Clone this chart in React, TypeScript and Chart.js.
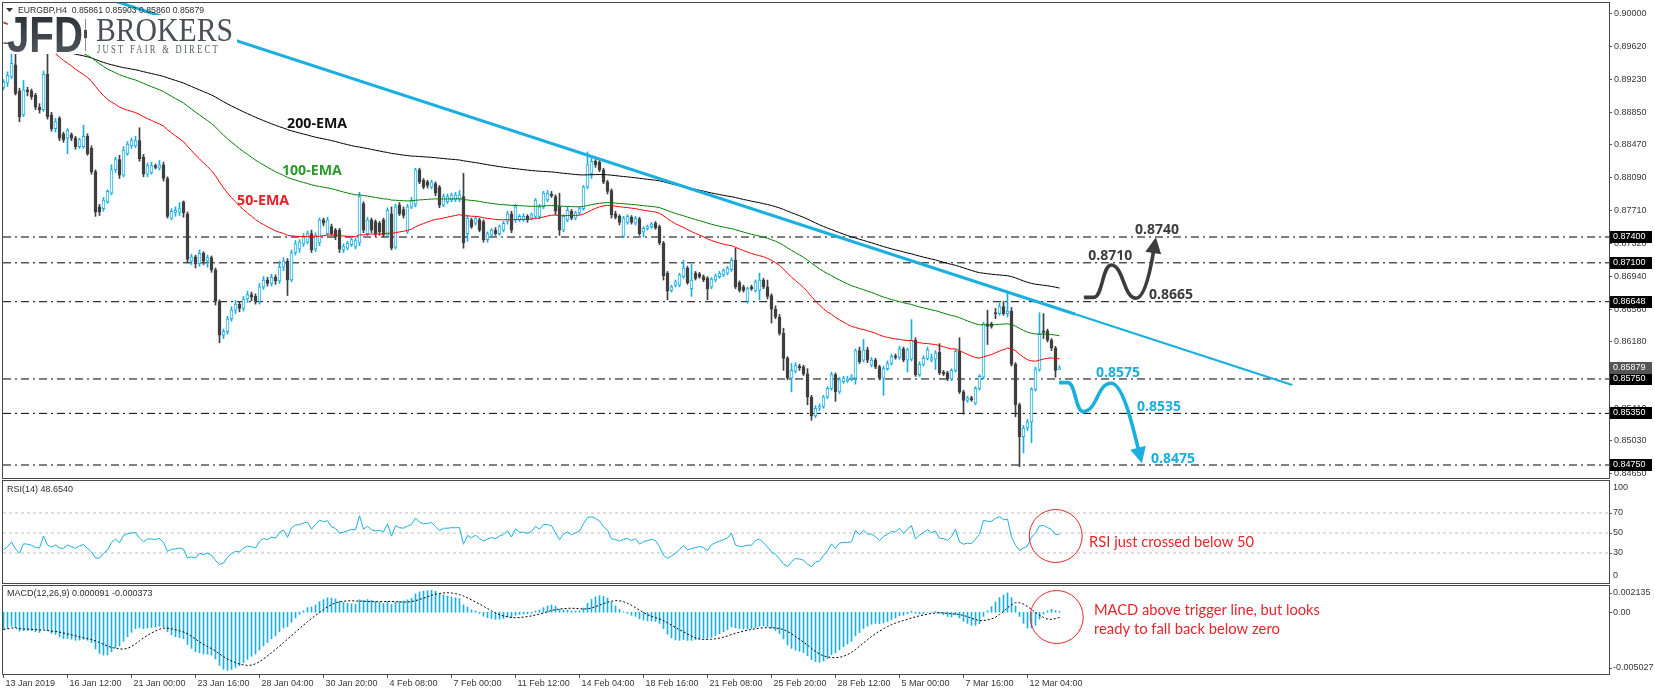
import React, { useEffect, useRef } from 'react';
import { Chart, registerables } from 'chart.js';

Chart.register(...registerables);

// ---------------- data (EURGBP H4) ----------------
const opens = [
  0.8914,0.8919,0.8926,0.8940,0.8910,0.8882,0.8911,0.8910,0.8905,0.8891,
  0.8888,0.8929,0.8882,0.8866,0.8878,0.8860,0.8855,0.8859,0.8855,0.8845,
  0.8845,0.8857,0.8843,0.8816,0.8775,0.8773,0.8781,0.8791,0.8818,0.8830,
  0.8812,0.8837,0.8846,0.8846,0.8852,0.8833,0.8813,0.8815,0.8823,0.8820,
  0.8824,0.8808,0.8762,0.8768,0.8769,0.8781,0.8767,0.8712,0.8717,0.8709,
  0.8721,0.8712,0.8716,0.8702,0.8665,0.8626,0.8630,0.8645,0.8655,0.8662,
  0.8657,0.8668,0.8673,0.8671,0.8665,0.8682,0.8690,0.8686,0.8693,0.8689,
  0.8705,0.8712,0.8690,0.8722,0.8726,0.8732,0.8734,0.8744,0.8726,0.8733,
  0.8760,0.8744,0.8752,0.8748,0.8748,0.8725,0.8727,0.8731,0.8729,0.8733,
  0.8779,0.8744,0.8760,0.8758,0.8756,0.8760,0.8742,0.8767,0.8728,0.8777,
  0.8772,0.8746,0.8775,0.8778,0.8818,0.8806,0.8804,0.8798,0.8802,0.8798,
  0.8777,0.8781,0.8783,0.8783,0.8784,0.8787,0.8744,0.8760,0.8756,0.8760,
  0.8758,0.8737,0.8742,0.8748,0.8744,0.8748,0.8758,0.8767,0.8760,0.8760,
  0.8760,0.8764,0.8762,0.8764,0.8764,0.8775,0.8783,0.8790,0.8787,0.8775,
  0.8748,0.8760,0.8770,0.8762,0.8768,0.8773,0.8798,0.8814,0.8828,0.8827,
  0.8818,0.8804,0.8794,0.8767,0.8764,0.8741,0.8757,0.8763,0.8756,0.8761,
  0.8746,0.8750,0.8752,0.8756,0.8752,0.8733,0.8698,0.8678,0.8684,0.8684,
  0.8694,0.8704,0.8680,0.8698,0.8697,0.8694,0.8692,0.8682,0.8690,0.8694,
  0.8696,0.8698,0.8702,0.8713,0.8687,0.8682,0.8665,0.8682,0.8678,0.8678,
  0.8690,0.8682,0.8672,0.8656,0.8647,0.8628,0.8599,0.8576,0.8584,0.8590,
  0.8589,0.8581,0.8554,0.8532,0.8541,0.8543,0.8554,0.8564,0.8580,0.8560,
  0.8572,0.8573,0.8575,0.8576,0.8608,0.8597,0.8609,0.8591,0.8597,0.8589,
  0.8576,0.8587,0.8593,0.8602,0.8600,0.8610,0.8597,0.8598,0.8620,0.8580,
  0.8592,0.8599,0.8597,0.8598,0.8606,0.8583,0.8582,0.8575,0.8585,0.8607,
  0.8560,0.8550,0.8553,0.8547,0.8564,0.8577,0.8639,0.8639,0.8652,0.8651,
  0.8659,0.8651,0.8654,0.8592,0.8545,0.8508,0.8518,0.8525,0.8563,0.8586,
  0.8631,0.8631,0.8620,0.8611,0.85861,
];
const highs = [
  0.8923,0.8932,0.8953,0.8953,0.8913,0.8922,0.8914,0.8912,0.8907,0.8895,
  0.8933,0.8953,0.8885,0.8878,0.8880,0.8862,0.8866,0.8861,0.8857,0.8855,
  0.8870,0.8860,0.8846,0.8818,0.8778,0.8786,0.8795,0.8824,0.8833,0.8835,
  0.8845,0.8851,0.8855,0.8857,0.8867,0.8836,0.8826,0.8827,0.8825,0.8829,
  0.8827,0.8810,0.8773,0.8775,0.8780,0.8782,0.8769,0.8720,0.8719,0.8725,
  0.8723,0.8719,0.8718,0.8704,0.8667,0.8633,0.8648,0.8659,0.8666,0.8665,
  0.8671,0.8677,0.8676,0.8674,0.8686,0.8694,0.8693,0.8697,0.8696,0.8712,
  0.8716,0.8715,0.8725,0.8736,0.8737,0.8744,0.8747,0.8748,0.8745,0.8762,
  0.8762,0.8763,0.8755,0.8750,0.8750,0.8732,0.8735,0.8740,0.8739,0.8792,
  0.8781,0.8763,0.8762,0.8760,0.8758,0.8762,0.8774,0.8775,0.8778,0.8780,
  0.8775,0.8778,0.8786,0.8820,0.8820,0.8808,0.8806,0.8806,0.8804,0.8800,
  0.8790,0.8790,0.8791,0.8792,0.8794,0.8814,0.8765,0.8762,0.8764,0.8762,
  0.8760,0.8746,0.8750,0.8751,0.8754,0.8758,0.8770,0.8770,0.8778,0.8766,
  0.8767,0.8766,0.8768,0.8785,0.8778,0.8793,0.8794,0.8793,0.8789,0.8791,
  0.8766,0.8775,0.8772,0.8770,0.8775,0.8800,0.8839,0.8833,0.8830,0.8830,
  0.8820,0.8806,0.8796,0.8770,0.8766,0.8764,0.8766,0.8765,0.8764,0.8763,
  0.8752,0.8754,0.8757,0.8758,0.8754,0.8735,0.8700,0.8684,0.8690,0.8698,
  0.8713,0.8706,0.8708,0.8700,0.8699,0.8696,0.8694,0.8693,0.8697,0.8700,
  0.8703,0.8706,0.8716,0.8727,0.8689,0.8684,0.8682,0.8684,0.8690,0.8698,
  0.8692,0.8690,0.8674,0.8660,0.8650,0.8634,0.8601,0.8593,0.8594,0.8592,
  0.8591,0.8587,0.8556,0.8544,0.8546,0.8556,0.8566,0.8583,0.8582,0.8577,
  0.8578,0.8578,0.8580,0.8610,0.8612,0.8621,0.8612,0.8600,0.8599,0.8591,
  0.8590,0.8596,0.8604,0.8604,0.8613,0.8612,0.8611,0.8644,0.8623,0.8595,
  0.8602,0.8612,0.8604,0.8608,0.8616,0.8585,0.8584,0.8587,0.8609,0.8623,
  0.8562,0.8555,0.8555,0.8566,0.8580,0.8641,0.8655,0.8641,0.8657,0.8663,
  0.8665,0.8675,0.8658,0.8594,0.8547,0.8521,0.8528,0.8565,0.8589,0.8652,
  0.8651,0.8633,0.8622,0.8613,0.85903,
];
const lows = [
  0.8911,0.8915,0.8924,0.8905,0.8874,0.8880,0.8904,0.8900,0.8888,0.8884,
  0.8886,0.8877,0.8863,0.8862,0.8852,0.8850,0.8837,0.8852,0.8842,0.8843,
  0.8843,0.8835,0.8813,0.8764,0.8765,0.8770,0.8779,0.8789,0.8815,0.8808,
  0.8810,0.8835,0.8843,0.8844,0.8828,0.8810,0.8810,0.8813,0.8819,0.8818,
  0.8805,0.8762,0.8760,0.8764,0.8765,0.8763,0.8710,0.8708,0.8704,0.8706,
  0.8708,0.8705,0.8699,0.8661,0.8617,0.8622,0.8627,0.8642,0.8651,0.8653,
  0.8654,0.8664,0.8666,0.8662,0.8662,0.8679,0.8683,0.8683,0.8685,0.8686,
  0.8701,0.8672,0.8688,0.8719,0.8722,0.8729,0.8732,0.8722,0.8723,0.8730,
  0.8753,0.8742,0.8742,0.8737,0.8722,0.8722,0.8725,0.8729,0.8726,0.8730,
  0.8745,0.8741,0.8745,0.8741,0.8742,0.8740,0.8740,0.8725,0.8726,0.8765,
  0.8762,0.8744,0.8773,0.8775,0.8802,0.8796,0.8797,0.8796,0.8788,0.8774,
  0.8775,0.8779,0.8781,0.8781,0.8781,0.8727,0.8735,0.8750,0.8754,0.8746,
  0.8734,0.8734,0.8740,0.8742,0.8742,0.8746,0.8755,0.8745,0.8757,0.8758,
  0.8758,0.8757,0.8760,0.8762,0.8761,0.8773,0.8781,0.8786,0.8766,0.8742,
  0.8746,0.8758,0.8760,0.8760,0.8766,0.8771,0.8796,0.8808,0.8821,0.8816,
  0.8802,0.8790,0.8762,0.8761,0.8754,0.8739,0.8755,0.8755,0.8754,0.8742,
  0.8740,0.8748,0.8750,0.8749,0.8731,0.8690,0.8667,0.8676,0.8682,0.8682,
  0.8692,0.8685,0.8671,0.8690,0.8692,0.8688,0.8667,0.8680,0.8688,0.8692,
  0.8694,0.8696,0.8700,0.8680,0.8676,0.8676,0.8663,0.8678,0.8676,0.8667,
  0.8680,0.8668,0.8640,0.8645,0.8626,0.8585,0.8574,0.8560,0.8582,0.8585,
  0.8579,0.8545,0.8527,0.8530,0.8538,0.8541,0.8552,0.8562,0.8549,0.8558,
  0.8570,0.8571,0.8573,0.8569,0.8593,0.8595,0.8594,0.8589,0.8587,0.8574,
  0.8556,0.8585,0.8591,0.8598,0.8598,0.8595,0.8583,0.8596,0.8578,0.8578,
  0.8590,0.8597,0.8595,0.8586,0.8580,0.8579,0.8573,0.8573,0.8583,0.8558,
  0.8534,0.8548,0.8549,0.8545,0.8562,0.8575,0.8615,0.8634,0.8645,0.8649,
  0.8649,0.8647,0.8590,0.8531,0.8473,0.8489,0.8515,0.8501,0.8561,0.8584,
  0.8622,0.8618,0.8608,0.8577,0.85860,
];
const closes = [
  0.8920,0.8928,0.8942,0.8907,0.8880,0.8911,0.8909,0.8903,0.8891,0.8888,
  0.8929,0.8880,0.8866,0.8874,0.8855,0.8853,0.8864,0.8855,0.8845,0.8853,
  0.8857,0.8837,0.8816,0.8769,0.8769,0.8783,0.8793,0.8818,0.8830,0.8812,
  0.8841,0.8848,0.8852,0.8852,0.8831,0.8813,0.8823,0.8823,0.8821,0.8824,
  0.8808,0.8764,0.8770,0.8771,0.8773,0.8768,0.8714,0.8717,0.8709,0.8721,
  0.8712,0.8716,0.8702,0.8665,0.8626,0.8630,0.8645,0.8655,0.8662,0.8657,
  0.8668,0.8673,0.8670,0.8665,0.8682,0.8690,0.8686,0.8693,0.8689,0.8705,
  0.8712,0.8690,0.8722,0.8732,0.8734,0.8740,0.8744,0.8725,0.8742,0.8760,
  0.8756,0.8760,0.8744,0.8740,0.8726,0.8729,0.8733,0.8737,0.8736,0.8787,
  0.8748,0.8760,0.8748,0.8744,0.8746,0.8742,0.8771,0.8727,0.8775,0.8767,
  0.8765,0.8775,0.8783,0.8818,0.8804,0.8798,0.8800,0.8804,0.8791,0.8777,
  0.8787,0.8787,0.8789,0.8789,0.8789,0.8733,0.8762,0.8752,0.8762,0.8748,
  0.8737,0.8744,0.8748,0.8744,0.8752,0.8756,0.8767,0.8748,0.8775,0.8764,
  0.8764,0.8760,0.8766,0.8783,0.8775,0.8791,0.8791,0.8788,0.8770,0.8748,
  0.8764,0.8771,0.8762,0.8768,0.8773,0.8798,0.8824,0.8828,0.8824,0.8818,
  0.8804,0.8793,0.8766,0.8763,0.8757,0.8762,0.8764,0.8757,0.8762,0.8744,
  0.8750,0.8752,0.8755,0.8751,0.8733,0.8695,0.8677,0.8682,0.8688,0.8696,
  0.8704,0.8687,0.8690,0.8692,0.8694,0.8690,0.8680,0.8691,0.8695,0.8698,
  0.8701,0.8704,0.8713,0.8682,0.8678,0.8678,0.8680,0.8680,0.8688,0.8690,
  0.8682,0.8671,0.8656,0.8647,0.8628,0.8599,0.8576,0.8585,0.8591,0.8588,
  0.8581,0.8554,0.8532,0.8541,0.8543,0.8554,0.8564,0.8580,0.8560,0.8574,
  0.8576,0.8575,0.8577,0.8608,0.8595,0.8609,0.8597,0.8597,0.8589,0.8576,
  0.8587,0.8593,0.8601,0.8600,0.8610,0.8597,0.8609,0.8620,0.8580,0.8592,
  0.8599,0.8609,0.8600,0.8605,0.8582,0.8581,0.8575,0.8585,0.8607,0.8560,
  0.8550,0.8553,0.8551,0.8564,0.8578,0.8639,0.8636,0.8636,0.8651,0.8659,
  0.8651,0.8654,0.8592,0.8545,0.8508,0.8518,0.8525,0.8563,0.8586,0.8627,
  0.8629,0.8620,0.8611,0.8585,0.85879,
];

const timeTickBars = [0, 16, 32, 48, 64, 80, 96, 112, 128, 144, 160, 176, 192, 208, 224, 240, 256];
const timeTickLabels = [
  '13 Jan 2019', '16 Jan 12:00', '21 Jan 00:00', '23 Jan 16:00', '28 Jan 04:00', '30 Jan 20:00',
  '4 Feb 08:00', '7 Feb 00:00', '11 Feb 12:00', '14 Feb 04:00', '18 Feb 16:00', '21 Feb 08:00',
  '25 Feb 20:00', '28 Feb 12:00', '5 Mar 00:00', '7 Mar 16:00', '12 Mar 04:00',
];
const priceTicks = [0.9, 0.8962, 0.8923, 0.8885, 0.8847, 0.8809, 0.8771, 0.8732, 0.8694, 0.8656, 0.8618, 0.858, 0.8541, 0.8503, 0.8465];
const levelPrices = [0.874, 0.871, 0.86648, 0.8575, 0.8535, 0.8475];
const levelTags = ['0.87400', '0.87100', '0.86648', '0.85750', '0.85350', '0.84750'];
const lastPrice = 0.85879;
const lastTag = '0.85879';
const trendThick = [{ x: 28, y: 0.9014 }, { x: 268, y: 0.86502 }];
const trendThin = [{ x: 268, y: 0.86502 }, { x: 322.2, y: 0.8568 }];
const bullishTargets = ['0.8740', '0.8710', '0.8665'];
const bearishTargets = ['0.8575', '0.8535', '0.8475'];
const rsiLevels = [30, 50, 70];
const rsiAxis = [100, 70, 50, 30, 0];
const macdAxis = [0.002135, 0, -0.005027];
const macdAxisTags = ['0.002135', '0.00', '-0.005027'];

// indicator seeds (values just before the first visible bar)
const emaSeed50 = 0.8993;
const emaSeed100 = 0.899;
const emaSeed200 = 0.8966;
const macdSeedFast = 0.8933;
const macdSeedSlow = 0.8947;
const rsiSeedGain = 0.00045;
const rsiSeedLoss = 0.0009;

// ---------------- indicators ----------------
function emaSeries(src: number[], period: number, seed: number) {
  const k = 2 / (period + 1);
  let prev = seed;
  return src.map((v) => (prev = prev + k * (v - prev)));
}
function rsiSeries(src: number[], n: number, g0: number, l0: number) {
  let g = g0;
  let l = l0;
  return src.map((v, i) => {
    if (i > 0) {
      const d = v - src[i - 1];
      g = (g * (n - 1) + Math.max(d, 0)) / n;
      l = (l * (n - 1) + Math.max(-d, 0)) / n;
    }
    return l === 0 ? 100 : 100 - 100 / (1 + g / l);
  });
}
const ema50 = emaSeries(closes, 50, emaSeed50);
const ema100 = emaSeries(closes, 100, emaSeed100);
const ema200 = emaSeries(closes, 200, emaSeed200);
const rsi = rsiSeries(closes, 14, rsiSeedGain, rsiSeedLoss);
const fastE = emaSeries(closes, 12, macdSeedFast);
const slowE = emaSeries(closes, 26, macdSeedSlow);
const macdMain = fastE.map((v, i) => v - slowE[i]);
const macdSignal = macdMain.map((_, i) => {
  const a = macdMain.slice(Math.max(0, i - 8), i + 1);
  return a.reduce((s, v) => s + v, 0) / a.length;
});

// ---------------- styling ----------------
const X_MIN = -0.125;
const X_MAX = 401.375;
const P_MIN = 0.84599;
const P_MAX = 0.9012;
const CYAN = '#1aafdf';
const DARK = '#3f3f3f';
const FRAME = '#474747';
const AX = '#363636';
const SANS = '"Liberation Sans", Arial, sans-serif';
const TICK_FONT = { family: '"Liberation Sans", Arial, sans-serif', size: 9 };
const SMALL = `9px ${SANS}`;
const RED = '#e5262c';
const BOLD_LABEL = `bold 15px "Open Sans", ${SANS}`;
const BOLD_TARGET = `bold 14px "Open Sans", ${SANS}`;
const NOTE = `15px Lato, ${SANS}`;

function txt(ctx: any, s: string, x: number, y: number, font: string, color: string, align = 'left', maxW?: number) {
  ctx.font = font;
  ctx.fillStyle = color;
  ctx.textAlign = align;
  ctx.textBaseline = 'middle';
  if (maxW) ctx.fillText(s, x, y, maxW);
  else ctx.fillText(s, x, y);
}

function arrowHead(ctx: any, tip: number[], from: number[], len: number, half: number, color: string) {
  const dx = tip[0] - from[0];
  const dy = tip[1] - from[1];
  const d = Math.hypot(dx, dy);
  const ux = dx / d;
  const uy = dy / d;
  const bx = tip[0] - ux * len;
  const by = tip[1] - uy * len;
  ctx.beginPath();
  ctx.moveTo(tip[0], tip[1]);
  ctx.lineTo(bx - uy * half, by + ux * half);
  ctx.lineTo(bx + uy * half, by - ux * half);
  ctx.closePath();
  ctx.fillStyle = color;
  ctx.fill();
  return [tip[0] - ux * (len - 2), tip[1] - uy * (len - 2)];
}

function sCurve(ctx: any, a: number[], b: number[]) {
  const d = (b[0] - a[0]) * 0.5;
  ctx.bezierCurveTo(a[0] + d, a[1], b[0] - d, b[1], b[0], b[1]);
}

const xLinear = (display: boolean) => ({
  type: 'linear',
  min: X_MIN,
  max: X_MAX,
  offset: false,
  display,
  grid: { offset: false, display: false },
});

// ---------------- main price panel ----------------
function buildMain(canvas: HTMLCanvasElement) {
  const bull = opens.map((o, i) => closes[i] >= o);
  const line = (data: any[], color: string, width: number, order: number, dash: number[] = []) => ({
    type: 'line',
    data,
    borderColor: color,
    borderWidth: width,
    borderDash: dash,
    pointRadius: 0,
    tension: 0,
    fill: false,
    order,
  });
  const datasets: any[] = [
    ...levelPrices.map((p) => line([{ x: X_MIN, y: p }, { x: X_MAX, y: p }], '#000', 1, 9, [8, 4, 2, 4])),
    {
      type: 'bar',
      data: highs.map((h, i) => ({ x: i, y: [lows[i], h] })),
      backgroundColor: bull.map((b) => (b ? CYAN : DARK)),
      barThickness: 1,
      grouped: false,
      order: 8,
    },
    {
      type: 'bar',
      data: opens.map((o, i) => ({ x: i, y: [o, closes[i]] })),
      backgroundColor: bull.map((b) => (b ? '#ffffff' : DARK)),
      borderColor: bull.map((b) => (b ? CYAN : DARK)),
      borderWidth: 1,
      borderSkipped: false,
      barThickness: 3,
      minBarLength: 1,
      grouped: false,
      order: 7,
    },
    line(ema200.map((v, i) => ({ x: i, y: v })), '#000000', 1, 6),
    line(ema100.map((v, i) => ({ x: i, y: v })), '#008000', 1, 5),
    line(ema50.map((v, i) => ({ x: i, y: v })), '#ff0000', 1, 4),
    line(trendThick, CYAN, 3, 2),
    line(trendThin, CYAN, 2, 2),
  ];

  const decor = {
    id: 'mainDecor',
    afterDraw(chart: any) {
      const { ctx } = chart;
      const xs = chart.scales.x;
      const ys = chart.scales.y;
      const px = (b: number) => xs.getPixelForValue(b);
      const py = (p: number) => ys.getPixelForValue(p);
      ctx.save();
      ctx.strokeStyle = FRAME;
      ctx.lineWidth = 1;
      ctx.strokeRect(2.5, 2.5, 1607, 476);

      // EMA labels
      txt(ctx, '200-EMA', px(78.4), py(0.88713), BOLD_LABEL, '#111111', 'center', 60);
      txt(ctx, '100-EMA', px(77.1), py(0.88167), BOLD_LABEL, '#2a9a2a', 'center', 60);
      txt(ctx, '50-EMA', px(64.9), py(0.87819), BOLD_LABEL, '#ee1c24', 'center', 52);

      // scenario targets
      txt(ctx, bullishTargets[0], px(288.4), py(0.87481), BOLD_TARGET, '#3c3c3c', 'center', 44);
      txt(ctx, bullishTargets[1], px(276.7), py(0.87179), BOLD_TARGET, '#3c3c3c', 'center', 44);
      txt(ctx, bullishTargets[2], px(291.9), py(0.86726), BOLD_TARGET, '#3c3c3c', 'center', 44);
      txt(ctx, bearishTargets[0], px(278.6), py(0.85819), BOLD_TARGET, CYAN, 'center', 44);
      txt(ctx, bearishTargets[1], px(288.9), py(0.85424), BOLD_TARGET, CYAN, 'center', 44);
      txt(ctx, bearishTargets[2], px(292.4), py(0.8482), BOLD_TARGET, CYAN, 'center', 44);

      ctx.lineWidth = 3.6;
      ctx.lineJoin = 'round';
      ctx.lineCap = 'butt';
      // bullish path
      {
        const P0 = [px(270.1), py(0.86699)];
        const P1 = [px(272.6), py(0.86699)];
        const pk = [px(276.9), py(0.87075)];
        const tr = [px(283.1), py(0.86688)];
        const tip = [px(288.1), py(0.87397)];
        const c2 = [tip[0] - 5, tip[1] + 30];
        const end = arrowHead(ctx, tip, c2, 16, 8, '#3c3c3c');
        ctx.strokeStyle = '#3c3c3c';
        ctx.beginPath();
        ctx.moveTo(P0[0], P0[1]);
        ctx.lineTo(P1[0], P1[1]);
        sCurve(ctx, P1, pk);
        sCurve(ctx, pk, tr);
        ctx.bezierCurveTo(tr[0] + 9, tr[1], c2[0], c2[1], end[0], end[1]);
        ctx.stroke();
      }
      // bearish path
      {
        const P0 = [px(263.9), py(0.85707)];
        const P1 = [px(266.1), py(0.85707)];
        const tr = [px(269.9), py(0.8537)];
        const pk = [px(276.9), py(0.857)];
        const tip = [px(284.6), py(0.8477)];
        const c2 = [tip[0] - 9, tip[1] - 36];
        const end = arrowHead(ctx, tip, c2, 16, 8, CYAN);
        ctx.strokeStyle = CYAN;
        ctx.beginPath();
        ctx.moveTo(P0[0], P0[1]);
        ctx.lineTo(P1[0], P1[1]);
        sCurve(ctx, P1, tr);
        sCurve(ctx, tr, pk);
        ctx.bezierCurveTo(pk[0] + 12, pk[1], c2[0], c2[1], end[0], end[1]);
        ctx.stroke();
      }

      // price tags on the axis
      const tag = (p: number, s: string, bg: string) => {
        const yy = py(p);
        ctx.fillStyle = bg;
        ctx.fillRect(1610, Math.round(yy) - 6, 42, 12);
        txt(ctx, s, 1613, Math.round(yy), SMALL, '#ffffff', 'left');
      };
      levelPrices.forEach((p, i) => tag(p, levelTags[i], '#000000'));
      tag(lastPrice, lastTag, '#555555');

      // header
      ctx.fillStyle = '#333';
      ctx.beginPath();
      ctx.moveTo(6, 8);
      ctx.lineTo(13, 8);
      ctx.lineTo(9.5, 12);
      ctx.closePath();
      ctx.fill();
      txt(ctx, 'EURGBP,H4  0.85861 0.85903 0.85860 0.85879', 18, 10.5, SMALL, '#2c2c2c', 'left', 186);

      // logo
      ctx.fillStyle = '#ffffff';
      ctx.fillRect(8, 15, 229, 39);
      ctx.textBaseline = 'alphabetic';
      ctx.textAlign = 'left';
      const g = ctx.createLinearGradient(0, 17, 0, 52);
      g.addColorStop(0, '#2e3338');
      g.addColorStop(1, '#4d535a');
      ctx.fillStyle = g;
      ctx.font = `bold 50px ${SANS}`;
      ctx.fillText('JFD', 7, 52, 76);
      ctx.fillStyle = '#8a8a8a';
      ctx.fillRect(85, 19, 1, 32);
      ctx.fillStyle = '#4a4a4a';
      ctx.fillRect(84, 30, 3, 8);
      ctx.fillStyle = '#4b4f55';
      ctx.font = `33px "Liberation Serif", "DejaVu Serif", serif`;
      ctx.fillText('BROKERS', 96, 41, 137);
      ctx.fillStyle = '#555a60';
      ctx.font = `11.5px "Liberation Serif", "DejaVu Serif", serif`;
      try { (ctx as any).letterSpacing = '3px'; } catch (e) {}
      ctx.fillText('JUST FAIR & DIRECT', 97, 53, 123);
      try { (ctx as any).letterSpacing = '0px'; } catch (e) {}
      ctx.restore();
    },
  };

  return new Chart(canvas, {
    type: 'bar',
    data: { datasets },
    options: {
      responsive: false,
      animation: false,
      events: [],
      layout: { padding: { left: 3, top: 3, bottom: 2, right: 0 } },
      plugins: { legend: { display: false }, tooltip: { enabled: false } },
      scales: {
        x: xLinear(false),
        y: {
          type: 'linear',
          position: 'right',
          min: P_MIN,
          max: P_MAX,
          beginAtZero: false,
          afterBuildTicks: (s: any) => {
            s.ticks = priceTicks.map((v) => ({ value: v }));
          },
          afterFit: (s: any) => {
            s.width = 46;
            s.paddingTop = 0;
            s.paddingBottom = 0;
          },
          ticks: {
            autoSkip: false,
            padding: 2,
            font: TICK_FONT,
            color: AX,
            callback: (v: any) => Number(v).toFixed(5),
          },
          grid: { drawOnChartArea: false, drawTicks: true, tickLength: 3, color: '#555' },
          border: { display: false },
        },
      },
    } as any,
    plugins: [decor],
  } as any);
}

// ---------------- RSI panel ----------------
function buildRsi(canvas: HTMLCanvasElement) {
  const datasets: any[] = [
    ...rsiLevels.map((lv) => ({
      type: 'line',
      data: [{ x: X_MIN, y: lv }, { x: X_MAX, y: lv }],
      borderColor: '#bdbdbd',
      borderWidth: 1,
      borderDash: [3, 3],
      pointRadius: 0,
      order: 3,
    })),
    {
      type: 'line',
      data: rsi.map((v, i) => ({ x: i, y: v })),
      borderColor: CYAN,
      borderWidth: 1,
      pointRadius: 0,
      tension: 0,
      order: 1,
    },
  ];
  const decor = {
    id: 'rsiDecor',
    afterDraw(chart: any) {
      const { ctx } = chart;
      const xs = chart.scales.x;
      const ys = chart.scales.y;
      ctx.save();
      ctx.strokeStyle = FRAME;
      ctx.lineWidth = 1;
      ctx.strokeRect(2.5, 0.5, 1607, 103);
      txt(ctx, 'RSI(14) 48.6540', 7, 9.5, SMALL, '#2c2c2c', 'left', 68);
      const shift: any = { 100: 4.5, 0: -7 };
      rsiAxis.forEach((v) => {
        const yy = ys.getPixelForValue(v);
        ctx.fillStyle = '#555';
        if (v !== 100 && v !== 0) ctx.fillRect(1609, Math.round(yy), 3, 1);
        txt(ctx, String(v), 1613, yy + (shift[v] || 0), SMALL, AX, 'left');
      });
      const cx = xs.getPixelForValue(263.05);
      const cy = ys.getPixelForValue(47);
      ctx.strokeStyle = RED;
      ctx.lineWidth = 1;
      ctx.beginPath();
      ctx.arc(cx, cy, 26.5, 0, Math.PI * 2);
      ctx.stroke();
      txt(ctx, 'RSI just crossed below 50', xs.getPixelForValue(271.4), ys.getPixelForValue(40.5), NOTE, RED, 'left', 165);
      ctx.restore();
    },
  };
  return new Chart(canvas, {
    type: 'line',
    data: { datasets },
    options: {
      responsive: false,
      animation: false,
      events: [],
      layout: { padding: { left: 3, right: 46, top: 3, bottom: 1 } },
      plugins: { legend: { display: false }, tooltip: { enabled: false } },
      scales: {
        x: xLinear(false),
        y: { type: 'linear', min: 0, max: 100, display: false },
      },
    } as any,
    plugins: [decor],
  } as any);
}

// ---------------- MACD panel ----------------
function buildMacd(canvas: HTMLCanvasElement) {
  const datasets: any[] = [
    {
      type: 'line',
      data: macdSignal.map((v, i) => ({ x: i, y: v })),
      borderColor: '#000000',
      borderWidth: 1,
      borderDash: [2, 2],
      pointRadius: 0,
      tension: 0,
      order: 1,
    },
    {
      type: 'bar',
      data: macdMain.map((v, i) => ({ x: i, y: v })),
      backgroundColor: CYAN,
      barThickness: 1,
      grouped: false,
      order: 2,
    },
  ];
  const decor = {
    id: 'macdDecor',
    afterDraw(chart: any) {
      const { ctx } = chart;
      const xs = chart.scales.x;
      const ys = chart.scales.y;
      ctx.save();
      ctx.strokeStyle = FRAME;
      ctx.lineWidth = 1;
      ctx.strokeRect(2.5, 1.5, 1607, 89);
      txt(ctx, 'MACD(12,26,9) 0.000091 -0.000373', 7, 10, SMALL, '#2c2c2c', 'left', 151);
      const shift = [7, 0, -6];
      macdAxis.forEach((v, k) => {
        const yy = ys.getPixelForValue(v);
        ctx.fillStyle = '#555';
        ctx.fillRect(1609, Math.round(yy + shift[k]), 3, 1);
        txt(ctx, macdAxisTags[k], 1613, yy + shift[k], SMALL, AX, 'left');
      });
      const cx = xs.getPixelForValue(263.3);
      const cy = ys.getPixelForValue(-0.00039);
      ctx.strokeStyle = RED;
      ctx.lineWidth = 1;
      ctx.beginPath();
      ctx.arc(cx, cy, 26.5, 0, Math.PI * 2);
      ctx.stroke();
      const tx = xs.getPixelForValue(272.6);
      txt(ctx, 'MACD above trigger line, but looks', tx, ys.getPixelForValue(0.000182), NOTE, RED, 'left', 226);
      txt(ctx, 'ready to fall back below zero', tx, ys.getPixelForValue(-0.001365), NOTE, RED, 'left', 186);
      ctx.restore();
    },
  };
  return new Chart(canvas, {
    type: 'bar',
    data: { datasets },
    options: {
      responsive: false,
      animation: false,
      events: [],
      layout: { padding: { left: 3, right: 46, top: 2, bottom: 0 } },
      plugins: { legend: { display: false }, tooltip: { enabled: false } },
      scales: {
        x: {
          type: 'linear',
          min: X_MIN,
          max: X_MAX,
          offset: false,
          position: 'bottom',
          afterBuildTicks: (s: any) => {
            s.ticks = timeTickBars.map((v) => ({ value: v }));
          },
          afterFit: (s: any) => {
            s.height = 21;
            s.paddingLeft = 0;
            s.paddingRight = 0;
          },
          ticks: {
            autoSkip: false,
            maxRotation: 0,
            minRotation: 0,
            align: 'start',
            labelOffset: 2,
            padding: 0,
            font: TICK_FONT,
            color: AX,
            callback: (v: any) => {
              const k = timeTickBars.indexOf(Number(v));
              return k >= 0 ? timeTickLabels[k] : '';
            },
          },
          grid: { offset: false, drawOnChartArea: false, drawTicks: true, tickLength: 4, color: '#555' },
          border: { display: false },
        },
        y: { type: 'linear', min: -0.005027, max: 0.002135, display: false, beginAtZero: false },
      },
    } as any,
    plugins: [decor],
  } as any);
}

export default function App() {
  const mainRef = useRef<HTMLCanvasElement>(null);
  const rsiRef = useRef<HTMLCanvasElement>(null);
  const macdRef = useRef<HTMLCanvasElement>(null);
  useEffect(() => {
    const charts = [
      buildMain(mainRef.current as HTMLCanvasElement),
      buildRsi(rsiRef.current as HTMLCanvasElement),
      buildMacd(macdRef.current as HTMLCanvasElement),
    ];
    return () => charts.forEach((c) => c.destroy());
  }, []);
  return (
    <div style={{ position: 'fixed', left: 0, top: 0, width: 1655, height: 695, background: '#ffffff', overflow: 'hidden' }}>
      <canvas ref={mainRef} width={1655} height={480} style={{ position: 'absolute', left: 0, top: 0 }} />
      <canvas ref={rsiRef} width={1655} height={104} style={{ position: 'absolute', left: 0, top: 480 }} />
      <canvas ref={macdRef} width={1655} height={111} style={{ position: 'absolute', left: 0, top: 584 }} />
    </div>
  );
}
